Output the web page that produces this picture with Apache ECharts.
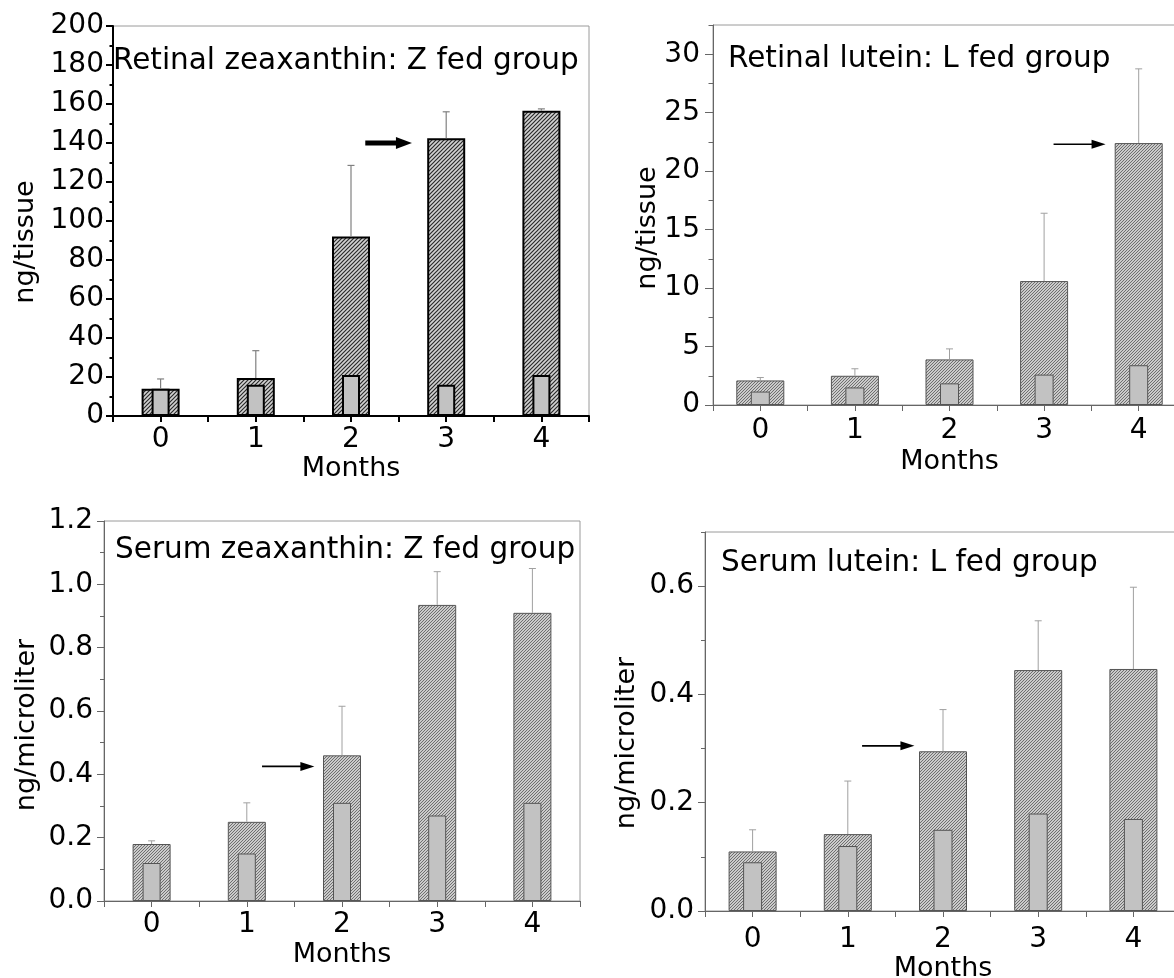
<!DOCTYPE html>
<html>
<head>
<meta charset="utf-8">
<script src="https://cdn.jsdelivr.net/npm/echarts@6/dist/echarts.min.js"></script>
<style>
  html, body { margin: 0; padding: 0; background: #fff; }
  #chart { width: 1174px; height: 978px; }
</style>
</head>
<body>
<div id="chart"></div>
<script>
// ---- data -------------------------------------------------------------
const months = ['0', '1', '2', '3', '4'];

// Retinal zeaxanthin, Z fed group (ng/tissue)
const retZeaFed      = [14, 19.5, 92, 142.5, 156.5];
const retZeaFedUpper = [19, 33.5, 128.5, 156, 157.5];
const retZeaCtrl     = [14, 16, 21, 16, 21];

// Retinal lutein, L fed group (ng/tissue)
const retLutFed      = [2.1, 2.5, 3.9, 10.6, 22.4];
const retLutFedUpper = [2.35, 3.1, 4.8, 16.4, 28.75];
const retLutCtrl     = [1.15, 1.5, 1.85, 2.6, 3.4];

// Serum zeaxanthin, Z fed group (ng/microliter)
const serZeaFed      = [0.18, 0.25, 0.46, 0.935, 0.91];
const serZeaFedUpper = [0.19, 0.31, 0.615, 1.04, 1.05];
const serZeaCtrl     = [0.12, 0.15, 0.31, 0.27, 0.31];

// Serum lutein, L fed group (ng/microliter)
const serLutFed      = [0.11, 0.142, 0.295, 0.445, 0.447];
const serLutFedUpper = [0.15, 0.24, 0.372, 0.536, 0.598];
const serLutCtrl     = [0.09, 0.12, 0.15, 0.18, 0.17];

const panelTitles = [
  'Retinal zeaxanthin: Z fed group',
  'Retinal lutein: L fed group',
  'Serum zeaxanthin: Z fed group',
  'Serum lutein: L fed group'
];
const yNames = ['ng/tissue', 'ng/tissue', 'ng/microliter', 'ng/microliter'];
const yMax   = [200, 32.5, 1.2, 0.7];
const yStep  = [20, 5, 0.2, 0.2];

// arrows point at the month whose bar is highlighted, at this level
const arrowMonth = [3, 4, 2, 2];
const arrowValue = [140, 22.3, 0.425, 0.305];

const fedSets   = [retZeaFed, retLutFed, serZeaFed, serLutFed];
const upperSets = [retZeaFedUpper, retLutFedUpper, serZeaFedUpper, serLutFedUpper];
const ctrlSets  = [retZeaCtrl, retLutCtrl, serZeaCtrl, serLutCtrl];

// ---- layout / styling -------------------------------------------------
const FONT = '"DejaVu Sans", "Liberation Sans", Arial, sans-serif';
const TICK_FONT = 28;

function hatch(size, bg, fg, lw) {
  const c = document.createElement('canvas');
  c.width = size; c.height = size;
  const g = c.getContext('2d');
  g.fillStyle = bg; g.fillRect(0, 0, size, size);
  g.strokeStyle = fg; g.lineWidth = lw;
  g.beginPath();
  g.moveTo(0, size); g.lineTo(size, 0);
  g.moveTo(-1, 1); g.lineTo(1, -1);
  g.moveTo(size - 1, size + 1); g.lineTo(size + 1, size - 1);
  g.stroke();
  return { image: c, repeat: 'repeat' };
}

// true when the axis maximum falls on a labelled step
function maxOnStep(max, step) {
  const r = max / step;
  return Math.abs(r - Math.round(r)) < 1e-6;
}

const panels = [
  { left: 113, top: 26, width: 476, height: 390,
    axisColor: '#000', axisWidth: 2, tickMajor: 7, tickMinor: 3.5,
    fedW: 38, ctrlW: 18, pattern: hatch(4, '#d2d2d2', '#2a2a2a', 1.2),
    barBorder: '#000', barBorderW: 2, errColor: '#808080', errW: 1.2,
    yMargin: 9, xMargin: 10, nameGap: 39, decimals: 0,
    titleX: 113, titleY: 46, yNameX: 26, yNameY: 242,
    arrowFrom: -0.85, arrowTo: -0.36, arrowShaft: 5, arrowHeadL: 16, arrowHeadW: 6 },
  { left: 713, top: 25, width: 473, height: 380,
    axisColor: '#666', axisWidth: 1, tickMajor: 8, tickMinor: 4.5,
    fedW: 48, ctrlW: 19, pattern: hatch(3, '#cbcbcb', '#646464', 0.9),
    barBorder: '#555', barBorderW: 1, errColor: '#a0a0a0', errW: 1,
    yMargin: 13, xMargin: 12, nameGap: 43, decimals: 0,
    titleX: 728, titleY: 44, yNameX: 648, yNameY: 228,
    arrowFrom: -0.9, arrowTo: -0.35, arrowShaft: 1.6, arrowHeadL: 14, arrowHeadW: 4.5 },
  { left: 104, top: 521, width: 476, height: 380,
    axisColor: '#666', axisWidth: 1, tickMajor: 7, tickMinor: 4,
    fedW: 38, ctrlW: 18, pattern: hatch(3, '#cbcbcb', '#646464', 0.9),
    barBorder: '#555', barBorderW: 1, errColor: '#a0a0a0', errW: 1,
    yMargin: 11, xMargin: 10, nameGap: 40, decimals: 1,
    titleX: 115, titleY: 535, yNameX: 27, yNameY: 725,
    arrowFrom: -0.84, arrowTo: -0.29, arrowShaft: 1.6, arrowHeadL: 14, arrowHeadW: 4.5 },
  { left: 705, top: 532, width: 476, height: 379,
    axisColor: '#666', axisWidth: 1, tickMajor: 7, tickMinor: 4,
    fedW: 48, ctrlW: 19, pattern: hatch(3, '#cbcbcb', '#646464', 0.9),
    barBorder: '#555', barBorderW: 1, errColor: '#a0a0a0', errW: 1,
    yMargin: 11, xMargin: 15, nameGap: 44, decimals: 1,
    titleX: 721, titleY: 548, yNameX: 627, yNameY: 743,
    arrowFrom: -0.85, arrowTo: -0.30, arrowShaft: 1.6, arrowHeadL: 14, arrowHeadW: 4.5 }
];

// ---- option -----------------------------------------------------------
const grid = [], xAxis = [], yAxis = [], series = [], title = [], graphic = [];

panels.forEach((p, i) => {
  grid.push({
    left: p.left, top: p.top, width: p.width, height: p.height,
    containLabel: false, outerBoundsMode: 'none',
    show: true, borderColor: '#9a9a9a', borderWidth: 1, backgroundColor: 'transparent'
  });

  const lineStyle = { color: p.axisColor, width: p.axisWidth };

  // main category axis: boundary ticks, labels, axis name
  xAxis.push({
    type: 'category', gridIndex: i, position: 'bottom', data: months, boundaryGap: true,
    axisLine: { show: true, onZero: false, lineStyle },
    axisTick: { show: true, alignWithLabel: false, length: 6, inside: false, lineStyle },
    axisLabel: { show: true, color: '#000', fontFamily: FONT, fontSize: TICK_FONT, margin: p.xMargin },
    splitLine: { show: false },
    name: 'Months', nameLocation: 'middle', nameGap: p.nameGap,
    nameTextStyle: { color: '#000', fontFamily: FONT, fontSize: 27 }
  });
  // companion axis: ticks at each month centre, carries the inner bars
  xAxis.push({
    type: 'category', gridIndex: i, position: 'bottom', data: months, boundaryGap: true,
    axisLine: { show: false },
    axisTick: { show: true, alignWithLabel: true, length: 6, lineStyle },
    axisLabel: { show: false },
    splitLine: { show: false }
  });

  yAxis.push({
    type: 'value', gridIndex: i, position: 'left', min: 0, max: yMax[i], interval: yStep[i],
    axisLine: { show: true, onZero: false, lineStyle },
    axisTick: { show: true, length: p.tickMajor, lineStyle },
    axisLabel: {
      show: true, color: '#000', fontFamily: FONT, fontSize: TICK_FONT, margin: p.yMargin,
      showMaxLabel: maxOnStep(yMax[i], yStep[i]),
      formatter: (v) => Number(v).toFixed(p.decimals)
    },
    splitLine: { show: false }
  });
  // minor ticks
  yAxis.push({
    type: 'value', gridIndex: i, position: 'left', min: 0, max: yMax[i], interval: yStep[i] / 2,
    axisLine: { show: false },
    axisTick: { show: true, length: p.tickMinor, lineStyle },
    axisLabel: { show: false },
    splitLine: { show: false }
  });

  const xMain = 2 * i, xInner = 2 * i + 1, yMain = 2 * i;

  series.push({
    type: 'bar', xAxisIndex: xMain, yAxisIndex: yMain, data: fedSets[i],
    barWidth: p.fedW, silent: true, z: 2,
    itemStyle: { color: p.pattern, borderColor: p.barBorder, borderWidth: p.barBorderW }
  });
  series.push({
    type: 'bar', xAxisIndex: xInner, yAxisIndex: yMain, data: ctrlSets[i],
    barWidth: p.ctrlW, silent: true, z: 3,
    itemStyle: { color: '#c2c2c2', borderColor: p.barBorder, borderWidth: p.barBorderW }
  });

  // upper error whiskers
  series.push({
    type: 'custom', xAxisIndex: xMain, yAxisIndex: yMain, silent: true, z: 4,
    data: fedSets[i].map((v, k) => [k, v, upperSets[i][k]]),
    encode: { x: 0, y: [1, 2] },
    renderItem: (params, api) => {
      const a = api.coord([api.value(0), api.value(1)]);
      const b = api.coord([api.value(0), api.value(2)]);
      const st = { stroke: p.errColor, lineWidth: p.errW };
      return { type: 'group', children: [
        { type: 'line', shape: { x1: a[0], y1: a[1], x2: b[0], y2: b[1] }, style: st },
        { type: 'line', shape: { x1: b[0] - 3.5, y1: b[1], x2: b[0] + 3.5, y2: b[1] }, style: st }
      ] };
    }
  });

  // pointer arrow
  series.push({
    type: 'custom', xAxisIndex: xMain, yAxisIndex: yMain, silent: true, z: 5,
    data: [[arrowMonth[i], arrowValue[i]]],
    encode: { x: 0, y: 1 },
    renderItem: (params, api) => {
      const c = api.coord([api.value(0), api.value(1)]);
      const band = api.size([1, 0])[0];
      const x0 = c[0] + band * p.arrowFrom, x1 = c[0] + band * p.arrowTo, y = c[1];
      return { type: 'group', children: [
        { type: 'line', shape: { x1: x0, y1: y, x2: x1 - p.arrowHeadL + 2, y2: y },
          style: { stroke: '#000', lineWidth: p.arrowShaft } },
        { type: 'polygon',
          shape: { points: [[x1, y], [x1 - p.arrowHeadL, y - p.arrowHeadW], [x1 - p.arrowHeadL, y + p.arrowHeadW]] },
          style: { fill: '#000' } }
      ] };
    }
  });

  title.push({
    text: panelTitles[i], left: p.titleX, top: p.titleY, padding: 0,
    textStyle: { color: '#000', fontFamily: FONT, fontSize: 29.5, fontWeight: 'normal' }
  });

  graphic.push({
    type: 'text', x: p.yNameX, y: p.yNameY, rotation: Math.PI / 2,
    style: { text: yNames[i], fill: '#000', font: '27px ' + FONT, align: 'center', verticalAlign: 'middle' }
  });
});

const chart = echarts.init(document.getElementById('chart'), null, { renderer: 'canvas' });
chart.setOption({
  animation: false,
  backgroundColor: '#fff',
  textStyle: { fontFamily: FONT },
  title, grid, xAxis, yAxis, series, graphic
});
</script>
</body>
</html>
